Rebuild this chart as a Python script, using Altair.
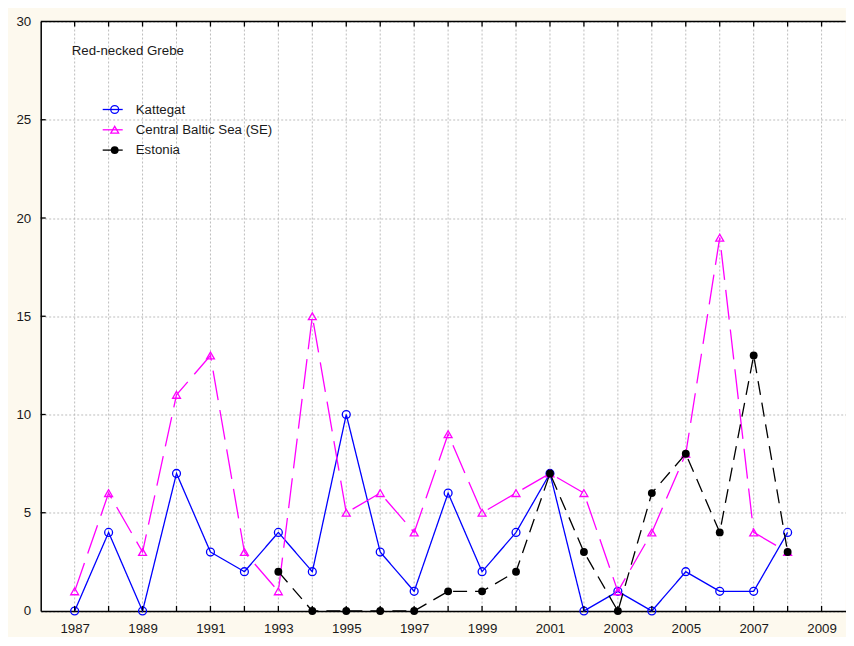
import altair as alt
import pandas as pd

years_k = list(range(1987, 2009))
kattegat = [0, 4, 0, 7, 3, 2, 4, 2, 10, 3, 1, 6, 2, 4, 7, 0, 1, 0, 2, 1, 1, 4]
central = [1, 6, 3, 11, 13, 3, 1, 15, 5, 6, 4, 9, 5, 6, 7, 6, 1, 4, 8, 19, 4, 3]
years_e = list(range(1993, 2009))
estonia = [2, 0, 0, 0, 0, 1, 1, 2, 7, 3, 0, 6, 8, 4, 13, 3]

series_names = ["Kattegat", "Central Baltic Sea (SE)", "Estonia"]
series_colors = ["#0000FF", "#FF00FF", "#000000"]
chart_title = "Red-necked Grebe"

grid_years = list(range(1987, 2010))
label_years = list(range(1987, 2010, 2))
y_ticks = [0, 5, 10, 15, 20, 25, 30]

W = 805
H = 589.5
FONT = "Liberation Sans"
FS = 13.3

xscale = alt.Scale(domain=[1986, 2009.71], nice=False, zero=False)
yscale = alt.Scale(domain=[0, 30], nice=False, zero=True)

df_k = pd.DataFrame({"year": years_k, "v": kattegat})
df_c = pd.DataFrame({"year": years_k, "v": central})
df_e = pd.DataFrame({"year": years_e, "v": estonia})

xenc = alt.X("year:Q", scale=xscale,
             axis=alt.Axis(values=label_years, format="d", title=None,
                           labelOverlap=False, ticks=False, grid=False,
                           domainColor="#000000", domainWidth=1.5,
                           labelPadding=11, labelFontSize=FS, labelFont=FONT,
                           labelColor="#1a1a1a", labelFlush=False))
yenc = alt.Y("v:Q", scale=yscale,
             axis=alt.Axis(values=y_ticks, title=None, ticks=False, grid=True,
                           gridDash=[2, 2], gridColor="#bdbdbd", gridWidth=1,
                           domainColor="#000000", domainWidth=1.5,
                           labelPadding=10, labelFontSize=FS, labelFont=FONT,
                           labelColor="#1a1a1a", labelFlush=False))

# vertical dotted grid lines at every year
grid_df = pd.DataFrame({"year": grid_years})
vgrid = alt.Chart(grid_df).mark_rule(color="#bdbdbd", strokeWidth=1, strokeDash=[2, 2]).encode(
    x=xenc, y=alt.value(0), y2=alt.value(H))


def series_layer(df, color, dash, shape, filled):
    line = alt.Chart(df).mark_line(color=color, strokeWidth=1.3, strokeDash=dash).encode(x=xenc, y=yenc)
    pts = alt.Chart(df).mark_point(shape=shape, filled=filled, color=color, size=62,
                                   strokeWidth=1.3, opacity=1).encode(x=xenc, y=yenc)
    return line + pts

k_layer = series_layer(df_k, series_colors[0], [1, 0], "circle", False)
c_layer = series_layer(df_c, series_colors[1], [30, 10], "triangle-up", False)
e_layer = series_layer(df_e, series_colors[2], [14, 8], "circle", True)

# inward ticks
tick_df = pd.DataFrame({"year": grid_years})
bottom_ticks = alt.Chart(tick_df).mark_rule(color="#000000", strokeWidth=1.3).encode(
    x=xenc, y=alt.value(H), y2=alt.value(H - 5))
top_ticks = alt.Chart(tick_df).mark_rule(color="#000000", strokeWidth=1.3).encode(
    x=xenc, y=alt.value(0), y2=alt.value(5))
ytick_df = pd.DataFrame({"v": y_ticks[1:-1]})
left_ticks = alt.Chart(ytick_df).mark_rule(color="#000000", strokeWidth=1.3).encode(
    y=yenc, x=alt.value(0), x2=alt.value(5))
top_border = alt.Chart(pd.DataFrame({"a": [0]})).mark_rule(color="#000000", strokeWidth=1.5).encode(
    x=alt.value(0), x2=alt.value(W), y=alt.value(0))

title_txt = alt.Chart(pd.DataFrame({"t": [chart_title]})).mark_text(
    align="left", baseline="middle", font=FONT, fontSize=FS, color="#1a1a1a").encode(
    x=alt.value(31), y=alt.value(29), text="t:N")

# manual legend
legend_layers = []
legend_shapes = [("circle", False), ("triangle-up", False), ("circle", True)]
for i, name in enumerate(series_names):
    ry = 88 + 20.3 * i
    d = pd.DataFrame({"name": [name]})
    col = series_colors[i]
    shp, fil = legend_shapes[i]
    legend_layers.append(alt.Chart(d).mark_rule(color=col, strokeWidth=1.3).encode(
        x=alt.value(62), x2=alt.value(82), y=alt.value(ry)))
    legend_layers.append(alt.Chart(d).mark_point(shape=shp, filled=fil, color=col, size=62,
                                                 strokeWidth=1.3, opacity=1).encode(
        x=alt.value(74), y=alt.value(ry)))
    legend_layers.append(alt.Chart(d).mark_text(align="left", baseline="middle", font=FONT,
                                                fontSize=FS, color="#1a1a1a").encode(
        x=alt.value(95), y=alt.value(ry), text="name:N"))

chart = alt.layer(
    vgrid,
    k_layer, c_layer, e_layer,
    bottom_ticks, top_ticks, left_ticks, top_border, title_txt,
    *legend_layers
).properties(
    width=W, height=H,
    autosize=alt.AutoSizeParams(type="none"),
    padding={"left": 32.7, "top": 13.5, "right": 0, "bottom": 26},
    background="#FDF9EE",
).configure_view(fill="#FFFFFF", stroke=None)

chart.save("out.html", embed_options={"renderer": "svg", "actions": False})
